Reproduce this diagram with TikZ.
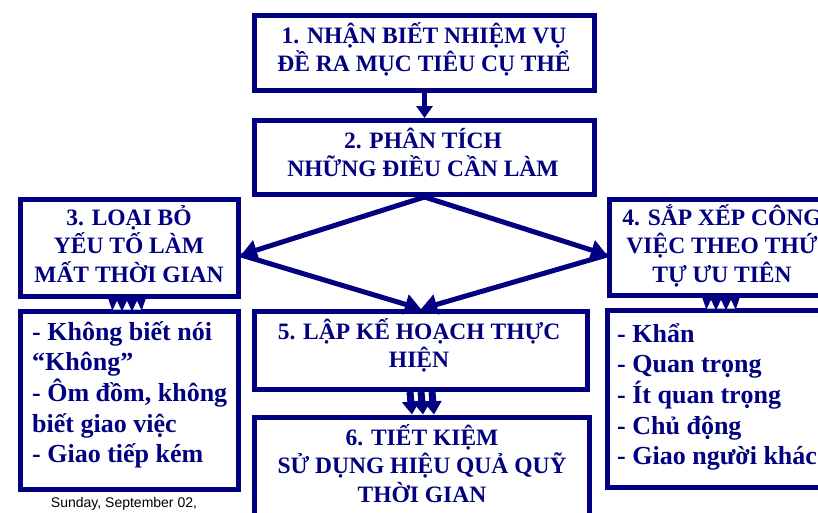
\documentclass[tikz,border=0pt]{standalone}
\usepackage{fontspec}
\setmainfont{Liberation Serif}
\newfontfamily\arialf{Liberation Sans}
\usetikzlibrary{arrows.meta,calc}
\definecolor{navy}{RGB}{0,0,128}
\newcommand{\ctrlines}[1]{\vtop{\halign{\hfil##\hfil\cr#1\crcr}}}
\newcommand{\lftlines}[1]{\vtop{\halign{##\hfil\cr#1\crcr}}}
\begin{document}
\begin{tikzpicture}[x=1pt,y=-1pt,
 box/.style={draw=navy,line width=5pt,inner sep=0pt,fill=white},
 ttl/.style={text=navy,font=\bfseries\fontsize{23.5}{28.5}\selectfont,inner sep=0pt,anchor=base},
 lst/.style={text=navy,font=\bfseries\fontsize{26}{30.7}\selectfont,inner sep=0pt,anchor=base west},
 arr/.style={draw=navy,line width=5pt,-{Triangle[width=16pt,length=12pt]}},
 darr/.style={draw=navy,line width=5pt,-{Triangle[width=20pt,length=16pt]}},
 tarr/.style={draw=navy,line width=7pt,-{Triangle[width=17pt,length=13pt]}}]
\useasboundingbox (0,0) rectangle (818,512);
\clip (0,0) rectangle (818,512);
% boxes
\node[box,minimum width=340pt,minimum height=75pt] (b1) at (424.5,53) {};
\node[box,minimum width=340pt,minimum height=74pt] (b2) at (424.5,157.5) {};
\node[box,minimum width=218pt,minimum height=97pt] (b3) at (129.5,248) {};
\node[box,minimum width=225pt,minimum height=96pt] (b4) at (722,247.5) {};
\node[box,minimum width=218pt,minimum height=178pt] (l3) at (129.5,400.5) {};
\node[box,minimum width=229pt,minimum height=177pt] (l4) at (722,399) {};
\node[box,minimum width=333pt,minimum height=78pt] (b5) at (421,350.5) {};
\node[box,minimum width=335pt,minimum height=120pt] (b6) at (422,477) {};
% texts
\node[ttl] (t1) at (424,43) {\ctrlines{1. NHẬN BIẾT NHIỆM VỤ\cr ĐỀ RA MỤC TIÊU CỤ THỂ}};
\node[ttl] (t2) at (423,148) {\ctrlines{2. PHÂN TÍCH\cr NHỮNG ĐIỀU CẦN LÀM}};
\node[ttl] (t3) at (129,225) {\ctrlines{3. LOẠI BỎ\cr YẾU TỐ LÀM\cr MẤT THỜI GIAN}};
\node[ttl] (t4) at (722,225) {\ctrlines{4. SẮP XẾP CÔNG\cr VIỆC THEO THỨ\cr TỰ ƯU TIÊN}};
\node[ttl] (t5) at (419,339) {\ctrlines{5. LẬP KẾ HOẠCH THỰC\cr HIỆN}};
\node[ttl] (t6) at (422,445) {\ctrlines{6. TIẾT KIỆM\cr SỬ DỤNG HIỆU QUẢ QUỸ\cr THỜI GIAN}};
\node[lst] (x3) at (32,340) {\lftlines{- Không biết nói\cr “Không”\cr - Ôm đồm, không\cr biết giao việc\cr - Giao tiếp kém}};
\node[lst] (x4) at (617,342) {\lftlines{- Khẩn\cr - Quan trọng\cr - Ít quan trọng\cr - Chủ động\cr - Giao người khác}};
\node[font=\arialf\fontsize{14}{16}\selectfont,inner sep=0pt,anchor=base] (foot) at (124,507) {Sunday, September 02,};
% connectors
\draw[arr] (b1.south) -- (b2.north);
\coordinate (L) at ($(b3.east)+(0,7)$);
\coordinate (R) at ($(b4.west)+(0,7.5)$);
\draw[darr] (b2.south) -- (L);
\draw[darr] (b2.south) -- (R);
\draw[darr] (L) -- (b5.north);
\draw[darr] (R) -- (b5.north);
\foreach \d in {-11,0,11}{
  \draw[tarr] ($(b5.south)+(\d,0)$) -- ($(b6.north)+(\d+1,0)$);
}
% small triple arrows
\coordinate (g3) at ($(b3.south)+(-2.5,0)$);
\coordinate (g4) at ($(b4.south)+(-1,0)$);
\foreach \g in {g3,g4}{
  \begin{scope}[shift={(\g)}]
    \fill[navy] (-19,-1) -- (19,-1) -- (15,10.5) -- (-15,10.5) -- cycle;
    \fill[white] (-14,10.5) -- (-10,2) -- (-6,10.5) -- cycle;
    \fill[white] (-4,10.5) -- (0,2) -- (4,10.5) -- cycle;
    \fill[white] (6,10.5) -- (10,2) -- (14,10.5) -- cycle;
  \end{scope}
}
\end{tikzpicture}
\end{document}
